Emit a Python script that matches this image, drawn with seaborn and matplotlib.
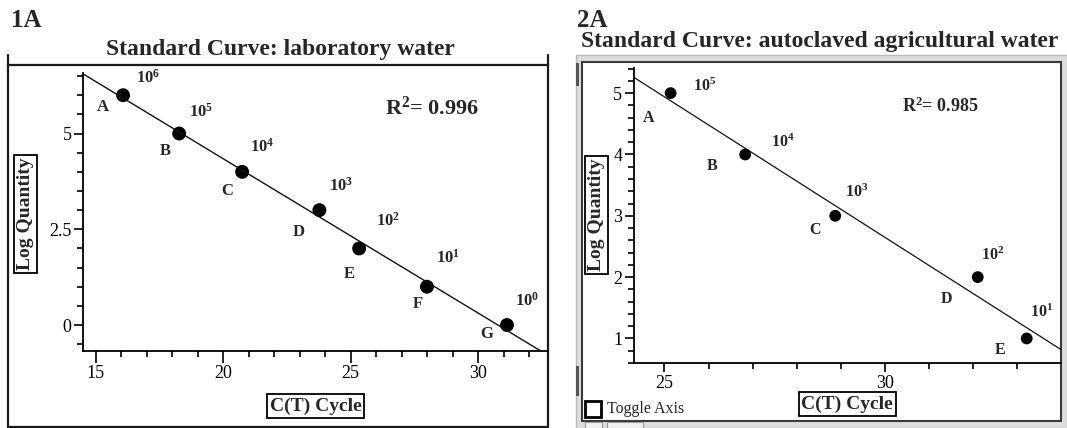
import matplotlib
matplotlib.use("Agg")
import matplotlib.pyplot as plt
from matplotlib.patches import Rectangle
from matplotlib.lines import Line2D
from matplotlib.ticker import MultipleLocator
import seaborn as sns

# 1A: standard curve, laboratory water
lab_ct = [16.07, 18.27, 20.74, 23.77, 25.33, 27.99, 31.13]
lab_logq = [6, 5, 4, 3, 2, 1, 0]
lab_names = ["A", "B", "C", "D", "E", "F", "G"]
lab_r2 = "0.996"
lab_xticks = [15, 20, 25, 30]
lab_yticks = [0, 2.5, 5]
lab_yticklabels = ["0", "2.5", "5"]

# 2A: standard curve, autoclaved agricultural water
ag_ct = [25.14, 26.83, 28.87, 32.10, 33.21]
ag_logq = [5, 4, 3, 2, 1]
ag_names = ["A", "B", "C", "D", "E"]
ag_r2 = "0.985"
ag_xticks = [25, 30]
ag_yticks = [1, 2, 3, 4, 5]

# label offsets (pixels) for the letter and the 10^n text next to each point
lab_name_off = [(-20, -12), (-14, -17), (-15, -19), (-21, -22), (-10, -26), (-9, -17), (-20, -9)]
lab_pow_off = [(25, 17), (22, 22), (20, 25), (22, 24), (29, 28), (21, 29), (20, 24)]
ag_name_off = [(-22, -25), (-33, -12), (-20, -14), (-31, -22), (-27, -12)]
ag_pow_off = [(34, 7), (38, 12), (21, 23), (15, 22), (15, 26)]

sns.set_style("ticks")
plt.rcParams["font.family"] = ["Liberation Serif", "DejaVu Serif"]
plt.rcParams["mathtext.fontset"] = "custom"
plt.rcParams["mathtext.rm"] = "Liberation Serif"
plt.rcParams["mathtext.bf"] = "Liberation Serif:bold"
plt.rcParams["mathtext.default"] = "bf"

W, H = 1067, 428
fig = plt.figure(figsize=(W / 100, H / 100), dpi=100)


def fx(x):
    return x / W


def fy(y):
    return 1 - y / H


def box(x0, y0, x1, y1, **kw):
    r = Rectangle((fx(x0), fy(y1)), (x1 - x0) / W, (y1 - y0) / H,
                  transform=fig.transFigure, **kw)
    fig.patches.append(r)


# window frames
box(8.3, 65, 548.3, 426.7, fc="white", ec="#1a1a1a", lw=1.6, zorder=-2)
for xv in [8.3, 548.3]:
    fig.lines.append(Line2D([fx(xv), fx(xv)], [fy(55), fy(65)], transform=fig.transFigure,
                            color="#1a1a1a", lw=1.6))
box(576, 55, 1067, 428, fc="#dedede", ec="#b8b8b8", lw=1, zorder=-3)
box(581.7, 61.7, 1060.7, 420.7, fc="white", ec="#3a3a3a", lw=1.5, zorder=-2)
box(575.5, 63, 579, 86, fc="#555555", ec="none", zorder=-1)
box(575.5, 366, 579, 396, fc="#555555", ec="none", zorder=-1)
box(585, 422, 602, 428, fc="#f2f2f2", ec="#9a9a9a", lw=0.8, zorder=-1)
box(607, 422, 643, 428, fc="#f2f2f2", ec="#9a9a9a", lw=0.8, zorder=-1)
box(585, 400.7, 600.7, 417.3, fc="white", ec="black", lw=2, zorder=5)
fig.text(fx(607), fy(413.3), "Toggle Axis", fontsize=11.5, va="baseline", ha="left")

ax1 = fig.add_axes([fx(83.3), fy(350.7), (548.3 - 83.3) / W, (350.7 - 73) / H])
ax2 = fig.add_axes([fx(634), fy(363.3), (1060.7 - 634) / W, (363.3 - 68.3) / H])

panels = [
    (ax1, lab_ct, lab_logq, lab_names, lab_name_off, lab_pow_off, (14.51, 32.75), (-0.67, 6.58),
     100, 1.0, 12),
    (ax2, ag_ct, ag_logq, ag_names, ag_name_off, ag_pow_off, (24.31, 33.98), (0.595, 5.405),
     72, 0.9, 11.5),
]

for ax, xs, ys, names, noff, poff, xl, yl, ms, lw, fs in panels:
    ax.set_facecolor("none")
    ax.set_xlim(*xl)
    ax.set_ylim(*yl)
    sns.regplot(x=xs, y=ys, ax=ax, ci=None, truncate=False, color="black",
                scatter_kws={"s": ms, "edgecolors": "none", "alpha": 1},
                line_kws={"lw": lw, "color": "#111111"})
    ax.set_xlim(*xl)
    ax.set_ylim(*yl)
    for x, y, n, no, po in zip(xs, ys, names, noff, poff):
        ax.annotate(n, (x, y), xytext=no, textcoords="offset pixels", ha="center", va="center",
                    fontsize=fs, fontweight="bold")
        ax.annotate("10$^{%d}$" % y, (x, y), xytext=po, textcoords="offset pixels", ha="center",
                    va="center", fontsize=fs, fontweight="bold")
    sns.despine(ax=ax)
    for s in ["left", "bottom"]:
        ax.spines[s].set_color("black")
        ax.spines[s].set_linewidth(1.3)
    ax.tick_params(which="both", direction="out", colors="black", width=1.2, labelsize=13, pad=2)
    ax.tick_params(which="major", length=6.5)
    ax.tick_params(which="minor", length=4.3)
    ax.tick_params(axis="x", which="major", length=8.5)

# panel 1A axes
ax1.set_xticks(lab_xticks, [str(t) for t in lab_xticks])
ax1.set_yticks(lab_yticks, lab_yticklabels)
ax1.xaxis.set_minor_locator(MultipleLocator(1))
ax1.yaxis.set_minor_locator(MultipleLocator(0.5))

# panel 2A axes
ax2.set_xticks(ag_xticks, [str(t) for t in ag_xticks])
ax2.set_yticks(ag_yticks, [str(t) for t in ag_yticks])
ax2.xaxis.set_minor_locator(MultipleLocator(1))
ax2.yaxis.set_minor_locator(MultipleLocator(0.2))
ax2.tick_params(axis="x", which="major", length=6.5)

lbox = dict(boxstyle="square,pad=0.15", fc="white", ec="black", lw=1.3)
for ax, ylc, xlc in [(ax1, (-0.124, 0.492), (0.4996, -0.199)), (ax2, (-0.087, 0.503), (0.5, -0.138))]:
    ax.set_ylabel("Log Quantity", fontsize=14, fontweight="bold", bbox=lbox, va="center")
    ax.set_xlabel("C(T) Cycle", fontsize=14, fontweight="bold", bbox=lbox, va="center")
    ax.yaxis.set_label_coords(*ylc)
    ax.xaxis.set_label_coords(*xlc)

# titles, panel tags and R^2 text
fig.text(fx(11), fy(26.7), "1A", fontsize=18, fontweight="bold", va="baseline", ha="left")
fig.text(fx(577), fy(26.7), "2A", fontsize=18, fontweight="bold", va="baseline", ha="left")
fig.text(fx(280.7), fy(55), "Standard Curve: laboratory water", fontsize=17, fontweight="bold",
         va="baseline", ha="center")
fig.text(fx(820), fy(47), "Standard Curve: autoclaved agricultural water", fontsize=17,
         fontweight="bold", va="baseline", ha="center")
fig.text(fx(432), fy(115), "R$^{2}$= " + lab_r2, fontsize=16, fontweight="bold", va="baseline",
         ha="center")
fig.text(fx(940), fy(111.7), "R$^{2}$= " + ag_r2, fontsize=13, fontweight="bold", va="baseline",
         ha="center")

fig.savefig("out.png", dpi=100)
